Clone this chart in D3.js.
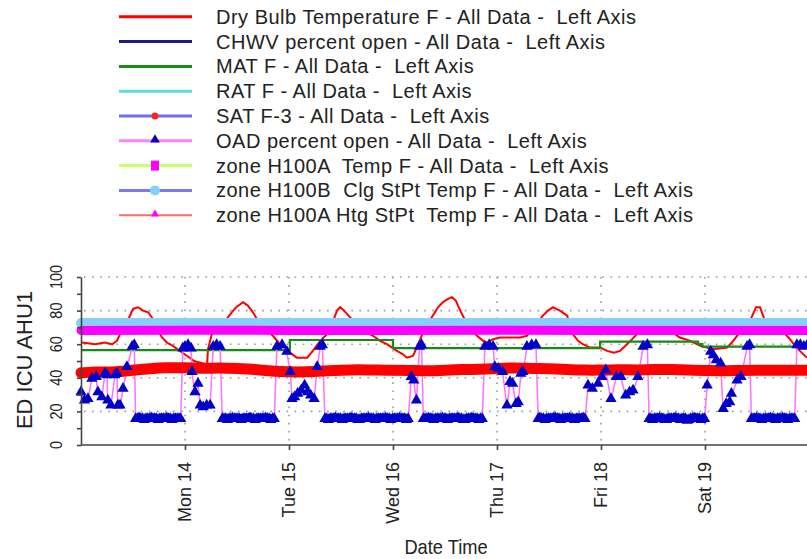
<!DOCTYPE html>
<html>
<head>
<meta charset="utf-8">
<script src="https://cdn.jsdelivr.net/npm/d3@7"></script>
<style>
  body { margin: 0; background: #fff; }
  text { font-family: "Liberation Sans", Arial, sans-serif; fill: #222; white-space: pre; }
</style>
</head>
<body>
<script>
// Legend entries
var legendLabels = [
  "Dry Bulb Temperature F - All Data -  Left Axis",
  "CHWV percent open - All Data -  Left Axis",
  "MAT F - All Data -  Left Axis",
  "RAT F - All Data -  Left Axis",
  "SAT F-3 - All Data -  Left Axis",
  "OAD percent open - All Data -  Left Axis",
  "zone H100A  Temp F - All Data -  Left Axis",
  "zone H100B  Clg StPt Temp F - All Data -  Left Axis",
  "zone H100A Htg StPt  Temp F - All Data -  Left Axis"
];

// Axis ticks
var yTicks = [0, 20, 40, 60, 80, 100];
var dayTicks = ["2013-01-14", "2013-01-15", "2013-01-16", "2013-01-17", "2013-01-18", "2013-01-19"];

// Series: [hours since Sun 13 00:00, value]
var dryBulb = [[0.2,61],[3.2,60],[5.5,61],[7.2,60],[8.3,62],[9.0,66],[10.8,74],[12.0,81],[13.2,82],[14.3,80],
  [15.5,79],[16.6,75],[17.8,68],[18.7,64],[19.8,61],[21.2,59],[22.8,56],[24.5,53],[26.1,50],[27.5,49],[29.1,48],
  [29.3,57],[30.2,66],[32.5,72],[33.9,76],[34.8,79],[35.8,82],[37.4,85],[38.5,83],[39.7,79],[40.8,74],[42.7,68],
  [44.3,65],[45.9,60],[47.3,57],[48.2,55],[49.8,52],[52.2,52],[53.5,56],[55.2,62],[56.8,66],[58.2,74],[59.1,80],
  [59.8,82],[60.7,80],[62.1,76],[63.9,71],[65.8,67],[67.4,65],[69.0,62],[70.6,60],[72.9,56],[74.3,54],[75.2,52],
  [76.6,53],[77.5,58],[79.4,70],[81.2,77],[82.4,82],[83.5,85],[84.7,87],[85.6,88],[86.5,86],[87.0,83],[87.9,78],
  [89.1,72],[90.2,68],[91.4,65],[92.8,62],[93.7,61],[95.1,63],[96.7,64],[99.0,64],[101.3,64],[102.9,65],[104.8,71],
  [106.6,77],[107.8,80],[108.9,82],[110.5,80],[112.2,77],[112.9,70],[113.5,66],[114.7,62],[115.8,60],[117.5,58],
  [119.8,58],[121.4,56],[123.0,55],[124.4,56],[126.0,60],[127.2,63],[128.3,66],[131.3,70],[134.8,68],[137.1,66],
  [138.2,64],[140.6,62],[142.9,59],[145.9,57],[149.1,58],[150.2,61],[151.4,65],[153.2,70],[154.4,74],[155.1,78],
  [155.8,82],[156.7,82],[157.4,77],[158.1,72],[160.2,68],[162.5,66],[163.6,63],[164.8,59],[165.9,56],[167.5,52]];

var matTemp = [[0,56.5],[48.2,62.5],[72.0,57.7],[119.8,61.5],[142.4,60],[143.4,58.5],[168,58.5]];

var satTemp = [[0,43],[4,43.5],[8,43.5],[12,44.5],[16,45.5],[20,46],[24,46],[28,45.5],[32,46],[36,45.5],[40,45],
  [44,44],[48,43.5],[52,43.5],[56,44],[60,44.5],[64,45],[68,44.5],[72,44.5],[76,44.5],[80,44],[84,44.5],[88,45],
  [92,45],[96,45.5],[100,46],[104,45.5],[108,45.5],[112,45],[116,44.5],[120,44.5],[124,45],[128,44.5],[132,45],
  [136,45],[140,44.5],[144,44.5],[148,44],[152,44.5],[156,44.5],[160,44.5],[164,44.5],[168,44.5]];

var zoneTemp = [[0,68.2],[24,68.3],[48,68.2],[72,68.2],[96,68.3],[120,68.2],[144,68.2],[168,68.2]];
var zoneClgStPt = [[0,72.6],[168,72.6]];

// OAD readings while the damper is modulating: [hour, percent]
var oadSwings = [[0,31],[0.8,26],[1.6,27],[2.5,39],[3.5,40],[3.9,31],[4.8,28],[5.5,42],[6.0,41],[6.2,26],[6.9,23],
  [7.8,41],[8.3,42],[8.5,23],[9.0,23],[9.7,33],[10.6,46],[11.8,58],[12.3,59],
  [23.5,57],[24.0,58],[24.7,59],[25.4,57],[25.6,43],[26.3,31],[27.0,36],[27.5,23],[28.2,22],[29.0,23],[29.8,23],
  [30.5,58],[31.3,59],[32.1,58],
  [45.2,58],[46.4,59],[47.5,55],[48.3,43],[48.7,27],[49.3,28],[50.0,30],[50.8,32],[51.6,35],[52.3,31],[53.0,29],
  [53.8,27],[54.5,46],[55.2,58],[55.7,59],
  [76.2,40],[76.8,38],[77.4,26],[78.1,58],[78.6,59],
  [93.2,58],[94.2,59],[95.1,58],[95.5,46],[96.3,45],[97.3,43],[98.3,23],[99.0,37],[99.6,36],[100.4,24],[100.9,25],
  [101.5,42],[102.0,43],[102.9,58],[104.0,59],[105.0,59],
  [117.0,35],[118.0,33],[119.3,36],[120.2,40],[121.1,44],[122.3,27],[123.5,40],[124.6,40],[125.7,29],[126.6,31],
  [127.4,32],[128.5,40],[129.7,58],[130.7,59],
  [144.5,35],[145.3,55],[145.9,53],[146.6,50],[147.6,48],[148.2,21],[148.9,24],[149.7,25],[150.1,30],[151.4,38],
  [152.3,40],[153.7,58],[154.3,59],
  [165.2,59],[166.0,59],[166.8,58],[167.6,59]];

// OAD readings at minimum position, logged every 0.4 h from each start hour
var oadMinStarts = [12.6, 32.6, 56.3, 79.0, 105.5, 131.1, 154.7];
var oadMinRuns = [
  [15,15,15.5,15,15,14.5,15,15,15,15.5,15,15,15,14.5,15,15,15,15,15.5,15,15,14.5,15,15,15,15,15],
  [15,15,15,14.5,15,15,15.5,15,15,15,15,14.5,15,15,15,15,15.5,15,15,14.5,15,15,15,15,15,15.5,15,15,14.5,15,15],
  [15,15,14.5,15,15,15,15.5,15,15,15,14.5,15,15,15,15,15.5,15,15,15,14.5,14.5,15,15,15,15,15.5,15,15,15,14.5,15,15,15,15,15,15.5,15,15,14.5,15,15,15,15,15.5,15,15,15,14.5,15],
  [15,15,15,15.5,15,15,14.5,15,15,15,15,15.5,15,15,14.5,15,15,15,15,15,15.5,15,15,14.5,14.5,15,15,15,15.5,15,15,15,14.5,15,15],
  [15,15.5,15,15,14.5,15,15,15,15,15.5,15.5,15,15,14.5,15,15,15,15,15.5,15,15,14.5,15,15,15,15,15.5,15],
  [15,15,14.5,15,15,15,15.5,15,15,14.5,14.5,15,15,15,15,15.5,15,15,14.5,15,15,15,14,14.5,15,15,15.5,15,15,15,14.5,15,15],
  [15,15,15,15.5,15,15,14.5,15,15,15,15,15.5,15,15,14.5,15,15,15,15.5,15,15,14.5,15,15,15,15]
];

// legend styling
var legendColors = ["#ff0000", "#1c1c84", "#168c16", "#5fdada", "#6f6ff5", "#ff80ff", "#ccff66", "#7a7aee", "#ff6a6a"];
var legendMarkers = [null, null, null, null, "dot", "triangle", "square", "circle", "smalltri"];
var legendMarkerColors = [null, null, null, null, "#ff2020", "#0000b0", "#ff00ff", "#87cefa", "#ff00ff"];

var svgWidth = 807;
var svgHeight = 559;

var svg = d3.select("body")
  .append("svg")
  .attr("width", svgWidth)
  .attr("height", svgHeight);

var base = new Date(2013, 0, 13);
function toDate(h) { return d3.timeMinute.offset(base, Math.round(h * 60)); }

// merge the OAD pieces into one time-ordered series
var oadOpen = oadSwings.slice();
oadMinRuns.forEach(function(run, r) {
  run.forEach(function(v, i) {
    oadOpen.push([oadMinStarts[r] + i * 0.4, v]);
  });
});
oadOpen.sort((a, b) => a[0] - b[0]);

var x = d3.scaleTime()
  .domain([base, new Date(2013, 0, 20)])
  .range([81, 809]);

var y = d3.scaleLinear()
  .domain([0, 100])
  .range([445, 277]);

var line = d3.line()
  .x(d => x(toDate(d[0])))
  .y(d => y(d[1]));

var days = dayTicks.map(d => d3.timeParse("%Y-%m-%d")(d));

// dotted grid
var grid = svg.append("g")
  .attr("stroke", "#9a9a9a")
  .attr("stroke-width", 1.6)
  .attr("stroke-dasharray", "1.6,6.5");

grid.selectAll(".hgrid")
  .data(yTicks.filter(v => v > 0))
  .enter().append("line")
  .attr("x1", 84).attr("x2", svgWidth)
  .attr("y1", d => y(d)).attr("y2", d => y(d));

grid.selectAll(".vgrid")
  .data(days)
  .enter().append("line")
  .attr("x1", d => x(d)).attr("x2", d => x(d))
  .attr("y1", y(100)).attr("y2", y(0));

// Dry bulb temperature
svg.append("path")
  .attr("d", line(dryBulb))
  .attr("fill", "none")
  .attr("stroke", "#ff0000")
  .attr("stroke-width", 2);

// MAT
svg.append("path")
  .attr("d", line.curve(d3.curveStepAfter)(matTemp))
  .attr("fill", "none")
  .attr("stroke", "#168c16")
  .attr("stroke-width", 2.2);
line.curve(d3.curveLinear);

// Clg setpoint band (dense light blue markers)
svg.append("path")
  .attr("d", line(zoneClgStPt))
  .attr("fill", "none")
  .attr("stroke", "#87cefa")
  .attr("stroke-width", 10)
  .attr("stroke-linecap", "round");

// zone temp band (dense magenta markers)
svg.append("path")
  .attr("d", line(zoneTemp))
  .attr("fill", "none")
  .attr("stroke", "#ff00ff")
  .attr("stroke-width", 9)
  .attr("stroke-linecap", "round");

// OAD connecting line
svg.append("path")
  .attr("d", line(oadOpen))
  .attr("fill", "none")
  .attr("stroke", "#ff70ff")
  .attr("stroke-width", 1.5);

// SAT band (dense red markers)
svg.append("path")
  .attr("d", line.curve(d3.curveBasis)(satTemp))
  .attr("fill", "none")
  .attr("stroke", "#ff0000")
  .attr("stroke-width", 11)
  .attr("stroke-linecap", "round");
line.curve(d3.curveLinear);

// OAD triangles
svg.append("g").selectAll("path")
  .data(oadOpen)
  .enter().append("path")
  .attr("d", d3.symbol().type(d3.symbolTriangle).size(55))
  .attr("transform", d => `translate(${x(toDate(d[0]))},${y(d[1]) - 1})`)
  .attr("fill", "#0000c8");

// left axis
var leftAxis = d3.axisLeft(y)
  .tickValues(d3.range(0, 101, 10))
  .tickSize(4)
  .tickSizeOuter(0)
  .tickFormat("");
var yAxisG = svg.append("g")
  .attr("transform", "translate(81,0)")
  .call(leftAxis);
yAxisG.selectAll("path, line").attr("stroke", "#444").attr("stroke-width", 1.6);

yAxisG.selectAll(".ylab")
  .data(yTicks)
  .enter().append("text")
  .attr("transform", d => `translate(-19,${y(d)}) rotate(-90) scale(0.85,1)`)
  .attr("text-anchor", "middle")
  .attr("font-size", 17)
  .text(d => d);

// bottom axis
var bottomAxis = d3.axisBottom(x)
  .tickValues(days)
  .tickSize(5)
  .tickSizeOuter(0)
  .tickFormat("");
var xAxisG = svg.append("g")
  .attr("transform", `translate(0,${y(0)})`)
  .call(bottomAxis);
xAxisG.select(".domain").attr("d", `M81,0H${svgWidth}`);
xAxisG.selectAll("path, line").attr("stroke", "#444").attr("stroke-width", 1.6);

xAxisG.selectAll(".xlab")
  .data(days)
  .enter().append("text")
  .attr("transform", d => `translate(${x(d) + 6},17) rotate(-90)`)
  .attr("text-anchor", "end")
  .attr("font-size", 18)
  .text(d => d3.timeFormat("%a %d")(d));

// axis titles
svg.append("text")
  .attr("transform", "translate(32,360) rotate(-90)")
  .attr("text-anchor", "middle")
  .attr("font-size", 22)
  .text("ED ICU AHU1");

svg.append("text")
  .attr("transform", "translate(446,554) scale(0.87,1)")
  .attr("text-anchor", "middle")
  .attr("font-size", 21)
  .text("Date Time");

// legend
var legend = svg.append("g");
var rows = legend.selectAll("g")
  .data(legendLabels)
  .enter().append("g")
  .attr("transform", (d, i) => `translate(0,${16.8 + i * 24.8})`);

rows.append("line")
  .attr("x1", 119).attr("x2", 192)
  .attr("stroke", (d, i) => legendColors[i])
  .attr("stroke-width", (d, i) => i === 8 ? 2 : 3);

rows.each(function(d, i) {
  var g = d3.select(this);
  var m = legendMarkers[i];
  var c = legendMarkerColors[i];
  if (m === "dot") g.append("circle").attr("cx", 155).attr("r", 3.5).attr("fill", c);
  if (m === "circle") g.append("circle").attr("cx", 155).attr("r", 5).attr("fill", c);
  if (m === "square") g.append("rect").attr("x", 151).attr("y", -5).attr("width", 8).attr("height", 10).attr("fill", c);
  if (m === "triangle") g.append("path").attr("d", d3.symbol().type(d3.symbolTriangle).size(40)).attr("transform", "translate(155,-1)").attr("fill", c);
  if (m === "smalltri") g.append("path").attr("d", d3.symbol().type(d3.symbolTriangle).size(28)).attr("transform", "translate(155,-1)").attr("fill", c);
});

rows.append("text")
  .attr("x", 216)
  .attr("y", 7)
  .attr("font-size", 20)
  .attr("letter-spacing", 0.5)
  .text(d => d);
</script>
</body>
</html>
